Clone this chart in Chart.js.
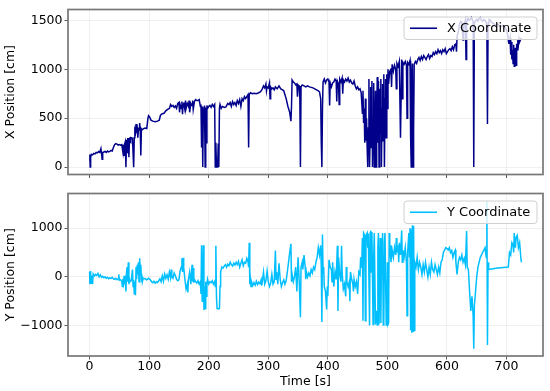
<!DOCTYPE html>
<html><head><meta charset="utf-8">
<script src="https://cdn.jsdelivr.net/npm/chart.js@4"></script>
<style>html,body{margin:0;padding:0;background:#fff;}#wrap{position:relative;width:550px;height:391px;}canvas{position:absolute;left:0;}</style>
</head><body>
<div id="wrap"><canvas id="c1" width="550" height="184" style="top:0"></canvas><canvas id="c2" width="550" height="207" style="top:184px"></canvas></div>
<script>
const timeX = [
0,0.5,1,1.5,2,3,5,7,9,11,
13,15,17,19,20,21,22,24,26,28,
30,32,34,36,38,40,42,44,46,48,
50,52,54,56,57,58,59,60,61,62,
63,64,65,66,67,68,69,70,72,74,
75,76,77,78,79,80,81,82,83,84,
85,86,87,88,90,93,96,98,99,101,
103,106,110,114,117,119,122,125,128,131,
134,136,138,140,142,144,146,148,150,151,
152,154,155,156,157,158,160,161,162,164,
166,167,168,170,172,173,174,176,178,180,
182,184,186,187,188,189,190,191,192,193,
194,195,196,197,198,200,202,204,206,208,
210,211,212,213,215,216,217,218,219,221,
223,226,229,232,234,236,238,240,242,244,
246,248,250,252,254,256,258,260,262,264,
266,267,268,270,273,276,280,284,287,290,
292,294,296,297,298,300,302,303,304,306,
308,310,312,315,318,321,324,326,328,330,
333,336,338,339,340,342,344,346,348,349,
350,352,353,354,355,357,360,363,366,369,
372,375,378,381,384,386,388,389,390,391,
392,394,396,398,400,402,403,404,406,408,
410,412,414,415,416,418,419,420,422,424,
425,426,428,430,432,434,436,438,440,442,
444,446,448,450,452,454,456,458,459,460,
461,462,463,464,465,466,467,468,469,470,
471,472,473,474,475,476,477,478,479,480,
481,482,483,484,485,486,487,488,489,490,
491,492,493,494,495,496,497,498,499,500,
501,502,504,506,507,508,510,512,514,515,
516,518,520,522,524,525,526,528,530,532,
533,534,536,538,539,540,541,542,543,544,
545,547,549,551,553,555,557,559,561,563,
565,567,569,571,573,575,577,579,581,583,
585,587,589,591,593,595,597,599,601,603,
605,607,609,611,613,615,616,617,619,621,
623,625,627,628,629,631,632,633,635,637,
639,641,643,644,645,646,648,650,652,654,
656,658,660,662,664,666,667,668,669,671,
673,675,678,682,686,690,694,698,700,702,
703,704,706,707,708,709,710,711,712,713,
714,715,716,717,718,719,720,721,722,724,
725];
const posX = [
60,130,0,120,100,130,125,140,135,150,
145,160,150,190,140,80,150,155,160,150,
165,155,160,170,165,200,230,240,235,225,
230,225,230,150,230,120,240,260,0,280,
150,290,290,100,295,300,280,300,295,0,
300,380,360,440,380,400,300,390,380,450,
390,120,390,380,390,400,395,500,525,510,
480,470,465,470,480,530,545,550,575,590,
600,640,620,630,610,625,600,650,660,560,
640,600,670,540,640,660,590,680,600,650,
620,680,560,650,630,680,590,670,690,680,
680,690,620,640,200,620,0,600,450,630,
0,610,250,630,600,620,630,610,640,620,
640,0,250,0,0,240,0,600,640,600,
620,610,615,650,640,660,620,670,640,660,
630,680,650,690,620,700,680,720,700,720,
740,200,740,760,750,755,750,760,770,800,
830,810,850,780,820,810,860,700,820,800,
810,790,820,800,830,800,790,780,740,700,
620,560,470,620,890,870,860,840,850,720,
840,830,700,0,820,840,830,820,830,820,
815,810,800,790,780,770,700,250,0,600,
870,900,860,890,900,870,630,860,820,860,
870,900,880,670,880,850,640,900,870,910,
750,890,870,900,880,910,870,890,860,850,
880,830,800,820,790,800,760,550,780,450,
600,250,700,270,500,200,0,400,900,0,
300,820,200,880,0,400,860,0,270,780,
0,500,920,250,880,0,800,350,900,0,
600,850,270,950,0,700,900,300,950,600,
1000,850,980,1000,820,1050,980,1040,1000,800,
1060,1030,1080,300,1100,700,1070,1050,1080,1040,
500,1070,1050,1090,300,0,900,1060,0,400,
1050,1080,1060,1100,1120,1090,1130,1100,1140,1120,
1100,1130,1150,1110,1140,1130,1170,1150,1180,1160,
1200,1170,1190,1160,1200,1180,1210,1160,1180,1200,
1210,1190,1230,1200,1250,1260,1180,1340,1380,1460,
1490,1480,1300,1420,1460,1500,1100,1480,1520,1500,
1510,1530,1500,1480,0,1470,1500,1510,1490,1520,
1530,1500,1490,1510,1500,1480,1380,440,1420,1510,
1500,1480,1470,1450,1460,1430,1450,1420,1400,1350,
1300,1260,1320,1150,1280,1100,1200,1060,1250,1030,
1180,1220,1040,1260,1200,1300,1250,1310,1280,1310,
1320];
const timeY = [
0,0.5,1,1.5,2,3,4,5,6,8,
10,12,14,16,18,20,22,24,26,28,
30,32,34,36,38,40,42,44,46,48,
49,50,52,54,55,56,57,58,59,60,
61,62,63,64,65,66,67,68,70,72,
73,74,75,76,77,78,79,80,81,82,
83,84,85,86,87,88,89,90,93,96,
99,102,104,106,108,110,112,114,116,118,
120,122,124,126,128,130,132,134,136,137,
138,140,142,144,146,148,150,152,154,155,
156,157,158,160,162,164,165,166,168,170,
172,173,174,175,176,178,180,182,184,186,
187,188,189,190,191,192,193,194,195,196,
197,198,200,202,204,206,208,210,211,212,
213,214,216,218,219,220,222,224,226,228,
230,232,234,236,238,240,242,244,246,248,
250,252,254,256,258,260,262,264,266,267,
268,269,270,271,272,274,276,278,280,282,
284,286,288,289,290,292,294,296,298,300,
302,304,306,308,310,312,313,314,316,318,
320,322,324,326,328,330,332,334,336,338,
339,340,342,344,346,348,350,352,354,355,
357,358,360,362,363,364,366,368,370,372,
374,376,378,380,382,384,386,388,389,390,
391,392,393,394,396,398,399,400,402,404,
406,407,408,410,412,414,416,417,418,420,
422,423,424,426,428,430,431,432,434,436,
437,438,440,442,443,444,446,448,450,452,
454,455,456,457,458,459,460,462,463,464,
466,467,468,470,471,472,473,474,476,477,
478,480,482,483,484,485,486,488,489,490,
492,493,494,495,496,498,499,500,501,502,
503,504,505,506,508,510,512,514,515,516,
518,519,520,522,524,525,526,528,530,532,
533,534,536,537,538,539,540,541,542,543,
544,545,546,548,550,552,554,556,558,560,
562,564,566,568,570,572,574,576,578,580,
582,584,586,588,590,592,594,596,598,600,
602,604,606,608,610,612,614,615,617,619,
621,623,625,627,629,631,633,634,636,638,
640,642,644,645,646,648,650,652,654,656,
658,660,662,664,666,667,668,669,670,675,
685,695,703,705,707,709,711,712,713,715,
716,718,720,722,724,725];
const posY = [
100,-150,120,-100,50,-130,30,-150,60,20,
50,30,70,0,40,-10,10,-20,0,-30,
-10,-40,-20,-30,-10,-40,-50,-30,-60,-40,
50,-70,-60,-90,-200,-40,-120,20,-150,-80,
-300,100,200,-100,300,-150,-50,-100,-80,150,
-200,-60,-350,-100,-380,200,-50,250,50,300,
-100,380,150,250,-50,0,-80,-30,-40,-60,
-30,-60,-100,-120,-90,-130,-100,-120,-80,-40,
-100,20,-90,60,-30,40,-50,100,-20,150,
0,-30,80,20,-50,-80,-60,120,200,380,
100,390,200,-50,-250,-150,-320,-50,100,-150,
250,-100,180,-120,-50,-100,-130,-80,-150,-100,
-350,650,-500,-100,650,-680,-200,-650,-100,-400,
-150,-50,-150,-100,-120,-80,-150,-100,-200,640,
-400,-650,-660,-650,-200,100,200,180,220,250,
200,260,230,300,250,220,280,240,300,250,
320,200,280,350,230,300,280,380,310,200,
700,-150,-50,-200,-100,-180,-120,-170,-90,-160,
-110,-140,-60,-180,-100,100,-150,-80,120,-100,
-200,-130,50,-150,-100,540,-50,100,-150,280,
-50,-200,-120,-60,-150,-80,100,300,500,680,
-100,50,-100,0,200,-300,400,-100,-830,200,
300,150,450,200,-50,100,0,80,20,150,
80,200,150,300,400,600,450,650,200,-930,
870,100,200,-200,-300,-670,-200,-400,350,200,
150,-100,300,-200,100,-50,640,-700,400,50,
-100,640,100,-250,-150,-400,200,-100,-200,-100,
-500,100,-50,-150,-300,-50,-200,-100,-350,100,
50,400,200,300,800,-900,900,850,-900,850,
900,600,880,-1000,900,950,100,920,-980,400,
900,-980,-700,-990,600,900,-980,800,-950,200,
900,-990,-960,700,900,-990,-950,300,-980,-950,
900,400,650,300,550,400,600,450,800,500,
650,300,700,450,950,300,550,400,600,300,
-800,500,900,400,1000,-1100,950,-1150,1060,-1120,
1050,-1100,300,200,400,150,300,200,50,250,
100,300,150,0,200,50,300,150,100,250,
150,50,200,80,300,350,500,550,600,580,
550,600,500,540,400,500,550,300,50,300,
400,350,450,300,380,250,940,200,150,-300,
-700,-400,-800,-1480,-600,-300,0,200,300,400,
450,500,550,600,400,1560,-1400,300,150,160,
180,190,200,500,450,700,650,500,900,600,
800,850,600,700,400,300];
const timeTicks = [0,100,200,300,400,500,600,700];
const xPosTicks = [0,500,1000,1500];
const yPosTicks = [-1000,0,1000];

const FONT = 'DejaVu Sans';
Chart.defaults.font.family = FONT;

function decor(label, color) {
  return {
    id: 'decor',
    afterDatasetsDraw(chart) {
      const ctx = chart.ctx, a = chart.chartArea;
      ctx.save();
      ctx.strokeStyle = '#777777';
      ctx.lineWidth = 1.7;
      ctx.strokeRect(a.left, a.top, a.right - a.left, a.bottom - a.top);
      const w = 133, h = 22.5;
      const bx = a.right - 6 - w, by = a.top + 7.5;
      const r = 3;
      ctx.beginPath();
      ctx.moveTo(bx + r, by);
      ctx.lineTo(bx + w - r, by); ctx.arcTo(bx + w, by, bx + w, by + r, r);
      ctx.lineTo(bx + w, by + h - r); ctx.arcTo(bx + w, by + h, bx + w - r, by + h, r);
      ctx.lineTo(bx + r, by + h); ctx.arcTo(bx, by + h, bx, by + h - r, r);
      ctx.lineTo(bx, by + r); ctx.arcTo(bx, by, bx + r, by, r);
      ctx.closePath();
      ctx.fillStyle = 'rgba(255,255,255,0.8)';
      ctx.fill();
      ctx.strokeStyle = '#d0d0d0';
      ctx.lineWidth = 1;
      ctx.stroke();
      const cy = by + h / 2;
      ctx.beginPath();
      ctx.moveTo(bx + 6, cy); ctx.lineTo(bx + 33, cy);
      ctx.strokeStyle = color; ctx.lineWidth = 1.6; ctx.stroke();
      ctx.fillStyle = '#000';
      ctx.font = '13px "' + FONT + '"';
      ctx.textBaseline = 'middle';
      ctx.textAlign = 'left';
      ctx.fillText(label, bx + 43, cy + 0.5);
      ctx.restore();
    }
  };
}

function fmt(v) { return String(v).replace('-', '\u2212'); }

function makeCfg(times, vals, color, label, yMin, yMax, yTicks, yTitle, bottom) {
  return {
    type: 'line',
    data: { datasets: [{ label: label, data: times.map((t, i) => ({ x: t, y: vals[i] })),
      borderColor: color, borderWidth: 1.5, pointRadius: 0, tension: 0, fill: false }] },
    options: {
      responsive: false, animation: false, devicePixelRatio: 1,
      layout: { padding: { left: 0, right: 7, top: bottom ? 1 : 6, bottom: 0 } },
      plugins: { legend: { display: false }, tooltip: { enabled: false } },
      scales: {
        x: {
          type: 'linear', min: -36.25, max: 761.25,
          afterBuildTicks: s => { s.ticks = timeTicks.map(v => ({ value: v })); },
          afterFit: s => { s.height = bottom ? 35 : 6; },
          grid: { color: 'rgba(0,0,0,0.08)', lineWidth: 0.8, tickColor: '#333', tickLength: 3.5 },
          border: { display: false },
          ticks: { display: bottom, padding: 0, color: '#000', font: { size: 12.5 }, maxRotation: 0, callback: v => fmt(v) },
          title: { display: bottom, text: 'Time [s]', color: '#000', font: { size: 12.5, lineHeight: 1.2 }, padding: { top: 0, bottom: 1.5 } }
        },
        y: {
          type: 'linear', min: yMin, max: yMax,
          afterBuildTicks: s => { s.ticks = yTicks.map(v => ({ value: v })); },
          afterFit: s => { s.width = 68; },
          grid: { color: 'rgba(0,0,0,0.08)', lineWidth: 0.8, tickColor: '#333', tickLength: 3.5 },
          border: { display: false },
          ticks: { padding: 2, color: '#000', font: { size: 12.5 }, callback: v => fmt(v) },
          title: { display: true, text: yTitle, color: '#000', font: { size: 12.5, lineHeight: 1.2 }, padding: { top: 3.5, bottom: 0 } }
        }
      }
    },
    plugins: [decor(label, color)]
  };
}

new Chart(document.getElementById('c1'), makeCfg(timeX, posX, '#00008B', 'X Coordinate', -75.5, 1611, xPosTicks, 'X Position [cm]', false));
new Chart(document.getElementById('c2'), makeCfg(timeY, posY, '#00BFFF', 'Y Coordinate', -1627, 1713, yPosTicks, 'Y Position [cm]', true));
</script>
</body></html>
